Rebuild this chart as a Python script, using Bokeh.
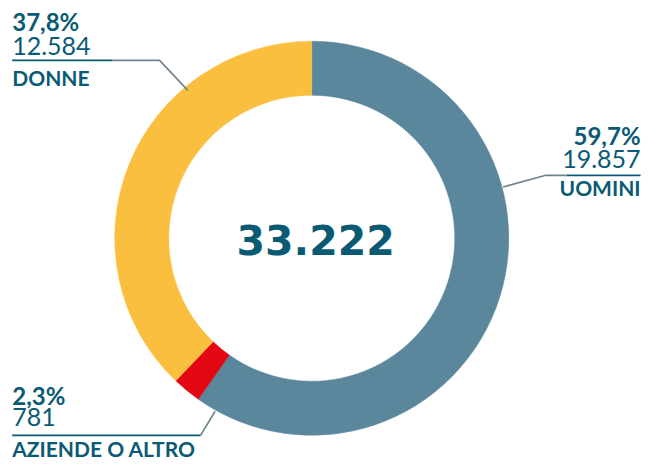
import math
from bokeh.plotting import figure
from bokeh.models import ColumnDataSource, Range1d
from bokeh.core.properties import value
from bokeh.embed import file_html
from bokeh.resources import INLINE

# ---- data ----
categories = ["UOMINI", "AZIENDE O ALTRO", "DONNE"]
values = [19857, 781, 12584]
pct_labels = ["59,7%", "2,3%", "37,8%"]
count_labels = ["19.857", "781", "12.584"]
total_label = "33.222"
colors = ["#5b879c", "#e30613", "#fbbf3f"]

TEXT = "#0b5a73"
GREY = "#6f828c"
FONT = "Lato"

W_REF, H_REF = 659, 476

def Y(y):
    return H_REF - y

p = figure(width=643, height=460, output_backend="svg", toolbar_location=None,
           x_range=Range1d(0, W_REF), y_range=Range1d(0, H_REF), min_border=0)
p.axis.visible = False
p.grid.visible = False
p.outline_line_color = None
p.background_fill_color = "white"
p.border_fill_color = "white"

total = sum(values)
starts, ends = [], []
cum = 0.0
for v in values:
    starts.append(math.pi / 2 - 2 * math.pi * cum / total)
    cum += v
    ends.append(math.pi / 2 - 2 * math.pi * cum / total)

src = ColumnDataSource(dict(x=[319] * 3, y=[Y(246)] * 3, start=starts, end=ends,
                            color=colors, cat=categories))
p.annular_wedge(x="x", y="y", inner_radius=143, outer_radius=197,
                inner_radius_units="screen", outer_radius_units="screen",
                start_angle="start", end_angle="end", direction="clock",
                fill_color="color", line_color="color", line_width=0.5, source=src)

# leader lines
def seg(xs, ys, color, w=1.6):
    p.line(xs, [Y(v) for v in ys], line_color=color, line_width=w)

# DONNE
seg([12, 115], [62, 62], TEXT)
seg([115, 163, 192], [62, 62, 93], GREY)
# UOMINI
seg([580, 656], [181, 181], TEXT)
seg([515, 558, 580], [193, 181, 181], GREY)
# AZIENDE
seg([12, 205], [450, 450], TEXT)
seg([205, 220], [450, 425], GREY)

def txt(x, y, s, size, bold, align="left", font=FONT):
    p.text(x=[x], y=[Y(y)], text=[s], text_font=value(font),
           text_font_size=f"{size}px", text_font_style="bold" if bold else "normal",
           text_color=TEXT, text_align=align, text_baseline="middle")

# DONNE (index 2)
txt(12, 21.5, pct_labels[2], 24, True)
txt(12, 47.5, count_labels[2], 25, False)
txt(12, 79.5, categories[2], 21, True)
# UOMINI (index 0)
txt(656, 140, pct_labels[0], 24, True, "right")
txt(656, 164, count_labels[0], 25, False, "right")
txt(656, 193, categories[0], 21, True, "right")
# AZIENDE (index 1)
txt(12, 408.5, pct_labels[1], 24, True)
txt(12, 431, count_labels[1], 25, False)
txt(12, 463.5, categories[1], 21, True)
# total
txt(323, 247.5, total_label, 41, True, "center", font="DejaVu Sans")

open("out.html", "w").write(file_html(p, INLINE))
